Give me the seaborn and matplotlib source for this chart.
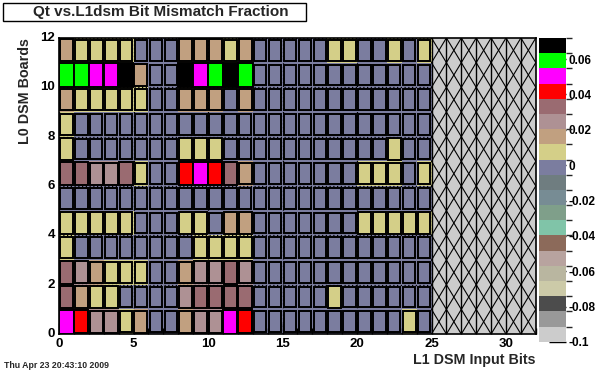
import numpy as np
import matplotlib
matplotlib.use("Agg")
import matplotlib.pyplot as plt
import seaborn as sns
from matplotlib.colors import ListedColormap, BoundaryNorm
from matplotlib.patches import Rectangle

sns.set_theme(style="white")
plt.rcParams['font.family'] = ['Liberation Sans', 'DejaVu Sans']
plt.rcParams['font.weight'] = 'bold'

# palette levels from bottom (-0.1) to top
palette = ['#cccccc', '#999999', '#4c4c4c', '#cccaa8', '#b9b6a0', '#b8a39f', '#8c6a5a',
           '#80c4a8', '#7f9f8a', '#778c94', '#6f7d80', '#7b7d9f', '#d4cf88', '#c1a080',
           '#ae9194', '#9a6b71', '#ff0000', '#ff00ff', '#00ff00', '#000000']
z_min, z_max = -0.1, 0.072
cbar_ticks = [-0.1, -0.08, -0.06, -0.04, -0.02, 0, 0.02, 0.04, 0.06]
cbar_labels = ['-0.1', '-0.08', '-0.06', '-0.04', '-0.02', '0', '0.02', '0.04', '0.06']

n_bits = 32          # x axis range (L1 DSM input bits)
n_boards = 12        # y axis range (L0 DSM boards)

# mismatch fraction per board (row 0 = bottom), bits 0..24
board_0 = [.051, .042, .025, .025, .008, .016, 0, 0, .016, .025, .025, .051, .042, 0, 0, 0, 0, 0, 0, 0, 0, 0, 0, .008, 0]
board_1 = [.033, .016, .008, .008, 0, 0, 0, 0, .025, .033, .033, .033, .033, 0, 0, 0, 0, 0, .008, 0, 0, 0, 0, 0, 0]
board_2 = [.033, .025, .016, .008, .008, .008, 0, 0, .016, .025, .025, .033, .025, 0, 0, 0, 0, 0, 0, 0, 0, 0, 0, 0, 0]
board_3 = [.008, 0, 0, 0, 0, 0, 0, 0, 0, .008, .008, .008, .008, 0, 0, 0, 0, 0, 0, 0, 0, 0, 0, 0, 0]
board_4 = [.008, .008, .008, .008, .008, 0, 0, 0, .008, .008, 0, .016, .016, 0, 0, 0, 0, 0, 0, 0, .008, .008, .008, .008, .008]
board_5 = [0, 0, 0, 0, 0, 0, 0, 0, 0, 0, 0, 0, 0, 0, 0, 0, 0, 0, 0, 0, 0, 0, 0, 0, 0]
board_6 = [.033, .033, .025, .025, .033, .008, 0, 0, .042, .051, .042, .033, .016, 0, 0, 0, 0, 0, 0, 0, .008, .008, .008, 0, .008]
board_7 = [.008, 0, 0, 0, 0, 0, 0, 0, .008, .008, .008, 0, 0, 0, 0, 0, 0, 0, 0, 0, 0, 0, .008, 0, 0]
board_8 = [.008, 0, 0, 0, 0, 0, 0, 0, 0, 0, 0, 0, 0, 0, 0, 0, 0, 0, 0, 0, 0, 0, 0, 0, 0]
board_9 = [.016, .008, .008, .008, .008, .008, 0, 0, .016, .016, .016, 0, .016, 0, 0, 0, 0, 0, 0, 0, 0, 0, 0, 0, 0]
board_10 = [.059, .059, .051, .051, .068, .016, 0, 0, .068, .051, .059, .068, .059, 0, 0, 0, 0, 0, 0, 0, 0, 0, 0, 0, 0]
board_11 = [.016, .008, .008, .008, .008, 0, 0, 0, .016, .016, .016, .008, .016, 0, 0, 0, 0, 0, .008, .008, 0, 0, .008, 0, .008]

boards = [board_0, board_1, board_2, board_3, board_4, board_5,
          board_6, board_7, board_8, board_9, board_10, board_11]

data = np.full((n_boards, n_bits), np.nan)
for j, row in enumerate(boards):
    data[j, :len(row)] = row
n_filled = len(board_0)

cmap = ListedColormap(palette)
bounds = np.linspace(z_min, z_max, len(palette) + 1)
norm = BoundaryNorm(bounds, cmap.N)

fig = plt.figure(figsize=(5.96, 3.72), dpi=100, facecolor='white')
ax = fig.add_axes([0.099, 0.102, 0.800, 0.796])
cax = fig.add_axes([0.904, 0.081, 0.046, 0.817])

sns.heatmap(data, ax=ax, cmap=cmap, norm=norm, cbar_ax=cax,
            cbar_kws={'ticks': cbar_ticks}, linewidths=0)
ax.set_ylim(0, n_boards)
ax.set_xlim(0, n_bits)

# grid + boxes
ax.set_axisbelow('line')
ax.set_xticks(np.arange(0, n_bits, 5))
ax.set_xticklabels([str(v) for v in range(0, n_bits, 5)], rotation=0)
ax.set_yticks(np.arange(0, n_boards + 1, 2))
ax.set_yticklabels([str(v) for v in range(0, n_boards + 1, 2)], rotation=0)
ax.set_xticks(np.arange(0, n_bits + 1, 1), minor=True)
ax.set_yticks(np.arange(0.5, n_boards, 1), minor=True)
ax.grid(True, which='major', color='black', linestyle=(0, (1, 2)), linewidth=0.9)

box_floor = -0.17   # box size scale origin
for j in range(n_boards):
    for i in range(n_filled):
        v = data[j, i]
        frac = np.sqrt((v - box_floor) / (z_max - box_floor))
        ax.add_patch(Rectangle((i + 0.5 - frac / 2, j + 0.5 - frac / 2), frac, frac,
                               facecolor=cmap(norm(v)), edgecolor='black', lw=1.4, zorder=3))

# empty bins region
ax.add_patch(Rectangle((n_filled, 0), n_bits - n_filled, n_boards, facecolor='#cccccc',
                       edgecolor='none', zorder=2))
for i in range(n_filled, n_bits):
    ax.plot([i, i], [0, n_boards], color='black', lw=1, zorder=2.5)
    for j in range(n_boards):
        ax.plot([i, i + 1], [j, j + 1], color='black', lw=0.8, zorder=2.5)
        ax.plot([i, i + 1], [j + 1, j], color='black', lw=0.8, zorder=2.5)

for s in ax.spines.values():
    s.set_visible(True)
    s.set_color('black')
    s.set_linewidth(1.2)

ax.tick_params(axis='both', which='both', direction='in', colors='black',
               labelsize=9.5, bottom=True, left=True, top=False, right=False)
ax.tick_params(axis='x', which='major', length=8, width=1, pad=3)
ax.tick_params(axis='x', which='minor', length=4, width=1)
ax.tick_params(axis='y', which='major', length=0, pad=3)
ax.tick_params(axis='y', which='minor', length=8, width=1)
ax.set_xlabel('L1 DSM Input Bits', fontsize=10.3, fontweight='bold', loc='right', labelpad=2)
ax.set_ylabel('L0 DSM Boards', fontsize=10.3, fontweight='bold', loc='top', labelpad=6)

cbar = ax.collections[0].colorbar
cbar.outline.set_visible(False)
cbar.set_ticklabels(cbar_labels)
cax.tick_params(direction='in', length=12, width=1, colors='black', labelsize=8.5, pad=2)

fig.add_artist(Rectangle((0.005, 0.9435), 0.508, 0.0485, transform=fig.transFigure,
                         facecolor='white', edgecolor='black', lw=1))
fig.text(0.270, 0.968, 'Qt vs.L1dsm Bit Mismatch Fraction', ha='center', va='center',
         fontsize=11, fontweight='bold')
fig.text(0.007, 0.018, 'Thu Apr 23 20:43:10 2009', fontsize=6.3, fontweight='bold', ha='left', va='center')

plt.savefig('out.png', dpi=100, facecolor='white')
